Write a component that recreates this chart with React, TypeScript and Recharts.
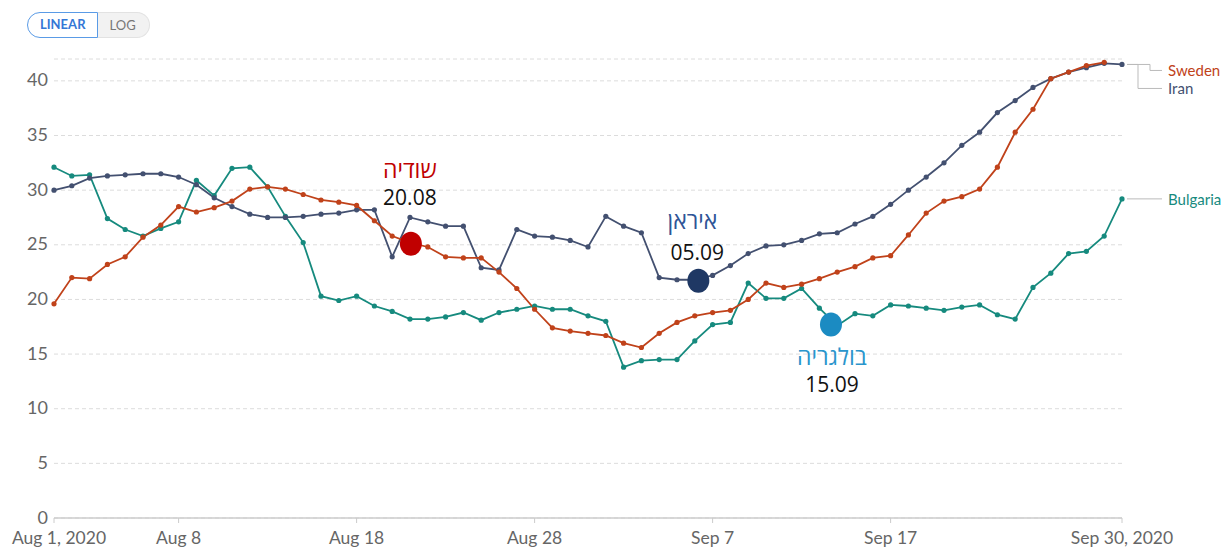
import React from "react";
import {
  LineChart,
  Line,
  XAxis,
  YAxis,
  CartesianGrid,
  ReferenceDot,
} from "recharts";

// day index 0 = Aug 1, 2020 ... 60 = Sep 30, 2020
const dayTicks = [0, 7, 17, 27, 37, 47, 60];
const dayTickLabels = ["Aug 1, 2020", "Aug 8", "Aug 18", "Aug 28", "Sep 7", "Sep 17", "Sep 30, 2020"];
const yTicks = [0, 5, 10, 15, 20, 25, 30, 35, 40];

const sweden = [
  19.6, 22.0, 21.9, 23.2, 23.9, 25.7, 26.8, 28.5, 28.0, 28.4,
  29.0, 30.1, 30.3, 30.1, 29.6, 29.1, 28.9, 28.6, 27.2, 25.8,
  25.2, 24.8, 23.9, 23.8, 23.8, 22.5, 21.0, 19.1, 17.4, 17.1,
  16.9, 16.7, 16.0, 15.6, 16.9, 17.9, 18.5, 18.8, 19.0, 20.0,
  21.5, 21.1, 21.4, 21.9, 22.5, 23.0, 23.8, 24.0, 25.9, 27.9,
  29.0, 29.4, 30.1, 32.1, 35.3, 37.4, 40.2, 40.8, 41.4, 41.7,
  null,
];

const iran = [
  30.0, 30.4, 31.1, 31.3, 31.4, 31.5, 31.5, 31.2, 30.5, 29.3,
  28.5, 27.8, 27.5, 27.5, 27.6, 27.8, 27.9, 28.2, 28.2, 23.9,
  27.5, 27.1, 26.7, 26.7, 22.9, 22.7, 26.4, 25.8, 25.7, 25.4,
  24.8, 27.6, 26.7, 26.1, 22.0, 21.8, 21.8, 22.2, 23.1, 24.2,
  24.9, 25.0, 25.4, 26.0, 26.1, 26.9, 27.6, 28.7, 30.0, 31.2,
  32.5, 34.1, 35.3, 37.1, 38.2, 39.4, 40.2, 40.8, 41.2, 41.6,
  41.5,
];

const bulgaria = [
  32.1, 31.3, 31.4, 27.4, 26.4, 25.8, 26.5, 27.1, 30.9, 29.5,
  32.0, 32.1, 30.3, 27.6, 25.2, 20.3, 19.9, 20.3, 19.4, 18.9,
  18.2, 18.2, 18.4, 18.8, 18.1, 18.8, 19.1, 19.4, 19.1, 19.1,
  18.5, 18.0, 13.8, 14.4, 14.5, 14.5, 16.2, 17.7, 17.9, 21.5,
  20.1, 20.1, 21.0, 19.2, 17.6, 18.7, 18.5, 19.5, 19.4, 19.2,
  19.0, 19.3, 19.5, 18.6, 18.2, 21.1, 22.4, 24.2, 24.4, 25.8,
  29.2,
];

// hand-drawn callouts on the picture (data coordinates)
const callouts = [
  { day: 20.05, value: 25.1, title: "שודיה", date: "20.08", dot: "#c00000", text: "#c00000", titleDy: -75, dateDy: -47, titleDx: -1, dateDx: -1 },
  { day: 36.2, value: 21.7, title: "איראן", date: "05.09", dot: "#1f3864", text: "#2f5597", titleDy: -61, dateDy: -29, titleDx: -6, dateDx: -1 },
  { day: 43.65, value: 17.7, title: "בולגריה", date: "15.09", dot: "#1b8bc2", text: "#2a95cc", titleDy: 31, dateDy: 59, titleDx: 1, dateDx: 1 },
];

const data = sweden.map((_, i) => ({
  day: i,
  sweden: sweden[i],
  iran: iran[i],
  bulgaria: bulgaria[i],
}));

const COLORS = {
  sweden: "#c0421a",
  iran: "#435070",
  bulgaria: "#168a7e",
};

const calloutFont = "'Open Sans', 'DejaVu Sans', sans-serif";

const makeCallout = (c: typeof callouts[number]) => (props: any) => {
  const { cx, cy } = props;
  return (
    <g>
      <ellipse cx={cx} cy={cy} rx={11} ry={12} fill={c.dot} />
      <text
        x={cx + c.titleDx}
        y={cy + c.titleDy}
        textAnchor="middle"
        dominantBaseline="central"
        fontSize={23}
        fontFamily={calloutFont}
        fill={c.text}
      >
        {c.title}
      </text>
      <text
        x={cx + c.dateDx}
        y={cy + c.dateDy}
        textAnchor="middle"
        dominantBaseline="central"
        fontSize={21}
        fontFamily={calloutFont}
        fill="#111"
      >
        {c.date}
      </text>
    </g>
  );
};

const endLabels = (props: any) => {
  const { cx, cy } = props;
  return (
    <g fontFamily="Lato, sans-serif" fontSize={15}>
      <path d={`M${cx + 5},${cy} H${cx + 28} V${cy + 6} H${cx + 40}`} fill="none" stroke="#bbb" strokeWidth={1} />
      <path d={`M${cx + 5},${cy} H${cx + 16} V${cy + 24} H${cx + 40}`} fill="none" stroke="#bbb" strokeWidth={1} />
      <text x={cx + 46} y={cy + 6} dominantBaseline="central" fill={COLORS.sweden}>Sweden</text>
      <text x={cx + 46} y={cy + 24} dominantBaseline="central" fill={COLORS.iran}>Iran</text>
    </g>
  );
};

const bulgariaLabel = (props: any) => {
  const { cx, cy } = props;
  return (
    <g fontFamily="Lato, sans-serif" fontSize={15}>
      <path d={`M${cx + 5},${cy} H${cx + 40}`} fill="none" stroke="#bbb" strokeWidth={1} />
      <text x={cx + 46} y={cy} dominantBaseline="central" fill={COLORS.bulgaria}>Bulgaria</text>
    </g>
  );
};

const DayTick = (props: any) => {
  const { x, y, payload } = props;
  const i = dayTicks.indexOf(payload.value);
  const shift = i === 0 ? 5 : 0;
  return (
    <text
      x={x + shift}
      y={y}
      dy="0.71em"
      textAnchor="middle"
      fill="#666"
      fontSize={17.5}
      fontFamily="Lato, sans-serif"
    >
      {dayTickLabels[i]}
    </text>
  );
};

const ValueTick = (props: any) => {
  const { x, y, payload } = props;
  return (
    <text
      x={x}
      y={y + 5.5}
      textAnchor="end"
      fill="#666"
      fontSize={18}
      fontFamily="Lato, sans-serif"
    >
      {payload.value}
    </text>
  );
};

const Toggle = () => (
  <div
    style={{
      position: "absolute",
      left: 27,
      top: 12,
      display: "flex",
      fontFamily: "Lato, sans-serif",
      fontSize: 13,
      lineHeight: "22px",
    }}
  >
    <div
      style={{
        border: "1.5px solid #5a9be6",
        borderRadius: "13px 0 0 13px",
        padding: "0 11px 0 12px",
        color: "#3477d6",
        fontWeight: 700,
        background: "#fff",
      }}
    >
      LINEAR
    </div>
    <div
      style={{
        border: "1px solid #e2e2e2",
        borderLeft: "none",
        borderRadius: "0 13px 13px 0",
        padding: "1px 13px 1px 12px",
        color: "#777",
        background: "#f2f2f2",
      }}
    >
      LOG
    </div>
  </div>
);

export default function App() {
  const lastIdx = iran.length - 1;
  return (
    <div
      style={{
        position: "absolute",
        left: 0,
        top: 0,
        width: 1225,
        height: 547,
        background: "#fff",
        fontFamily: "Lato, sans-serif",
      }}
    >
      <Toggle />
      <LineChart
        width={1225}
        height={547}
        data={data}
        margin={{ top: 59, right: 103, bottom: 0, left: 0 }}
      >
        <CartesianGrid vertical={false} stroke="#dcdcdc" strokeDasharray="4 3" />
        <XAxis
          dataKey="day"
          type="number"
          domain={[0, 60]}
          ticks={dayTicks}
          height={29}
          tickSize={5}
          tickMargin={9}
          axisLine={{ stroke: "#ccc", strokeWidth: 1.5 }}
          tickLine={{ stroke: "#ccc" }}
          tick={<DayTick />}
          interval={0}
        />
        <YAxis
          domain={[0, 42]}
          ticks={yTicks}
          width={54}
          axisLine={false}
          tickLine={false}
          tickSize={0}
          tickMargin={6}
          tick={<ValueTick />}
        />
        <Line
          dataKey="bulgaria"
          stroke={COLORS.bulgaria}
          strokeWidth={1.8}
          dot={{ r: 2.6, fill: COLORS.bulgaria, stroke: "none" }}
          isAnimationActive={false}
          type="linear"
        />
        <Line
          dataKey="iran"
          stroke={COLORS.iran}
          strokeWidth={1.8}
          dot={{ r: 2.6, fill: COLORS.iran, stroke: "none" }}
          isAnimationActive={false}
          type="linear"
        />
        <Line
          dataKey="sweden"
          stroke={COLORS.sweden}
          strokeWidth={1.8}
          dot={{ r: 2.6, fill: COLORS.sweden, stroke: "none" }}
          isAnimationActive={false}
          type="linear"
        />
        <ReferenceDot x={lastIdx} y={iran[lastIdx]} r={0} ifOverflow="visible" shape={endLabels} />
        <ReferenceDot x={lastIdx} y={bulgaria[lastIdx]} r={0} ifOverflow="visible" shape={bulgariaLabel} />
        {callouts.map((c) => (
          <ReferenceDot
            key={c.date}
            x={c.day}
            y={c.value}
            r={11}
            ifOverflow="visible"
            shape={makeCallout(c)}
          />
        ))}
      </LineChart>
    </div>
  );
}
